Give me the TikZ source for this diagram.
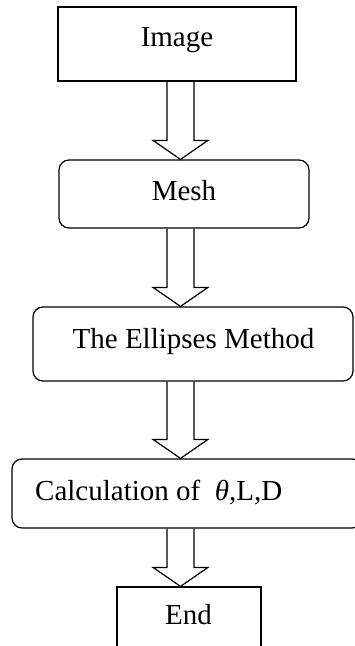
\documentclass[tikz,border=0pt]{standalone}
\usepackage{fontspec}
\setmainfont{Liberation Serif}
\usetikzlibrary{calc}
\tikzset{
  box/.style={draw, line width=1.2pt, inner sep=0pt},
  rbox/.style={box, rounded corners=10pt},
  txt/.style={font=\fontsize{29}{34}\selectfont, inner sep=0pt, anchor=base},
  blk/.style={draw, line width=1.2pt, line join=miter},
}
\newcommand\blockarrow[2]{%
  \draw[blk] let \p1=(#1.south), \p2=(#2.north) in
    (167pt,\y1) -- (167pt,\y2+19pt) -- (153pt,\y2+19pt) -- (180.5pt,\y2)
    -- (208pt,\y2+19pt) -- (194pt,\y2+19pt) -- (194pt,\y1);}
\begin{document}
\begin{tikzpicture}[x=1pt,y=-1pt]
\useasboundingbox (0,0) rectangle (355,646);
\node[box, minimum width=238pt, minimum height=74pt] (img) at (177,44) {};
\node[rbox, minimum width=250pt, minimum height=68pt] (mesh) at (184,194) {};
\node[rbox, minimum width=320pt, minimum height=74pt] (ell) at (193,344) {};
\node[rbox, minimum width=350pt, minimum height=69pt] (calc) at (187,493.5) {};
\node[box, minimum width=144pt, minimum height=72pt] (end) at (189,623) {};
\node[txt] (imgt) at (177,46) {Image};
\node[txt] (mesht) at (184,200) {Mesh};
\node[txt] (ellt) at (193.5,348) {The Ellipses Method};
\node[txt, anchor=base west] (calct) at (35,500) {Calculation of\ \ {\itshape θ},L,D};
\node[txt] (endt) at (188.5,624) {End};
\blockarrow{img}{mesh}
\blockarrow{mesh}{ell}
\blockarrow{ell}{calc}
\blockarrow{calc}{end}
\end{tikzpicture}
\end{document}
